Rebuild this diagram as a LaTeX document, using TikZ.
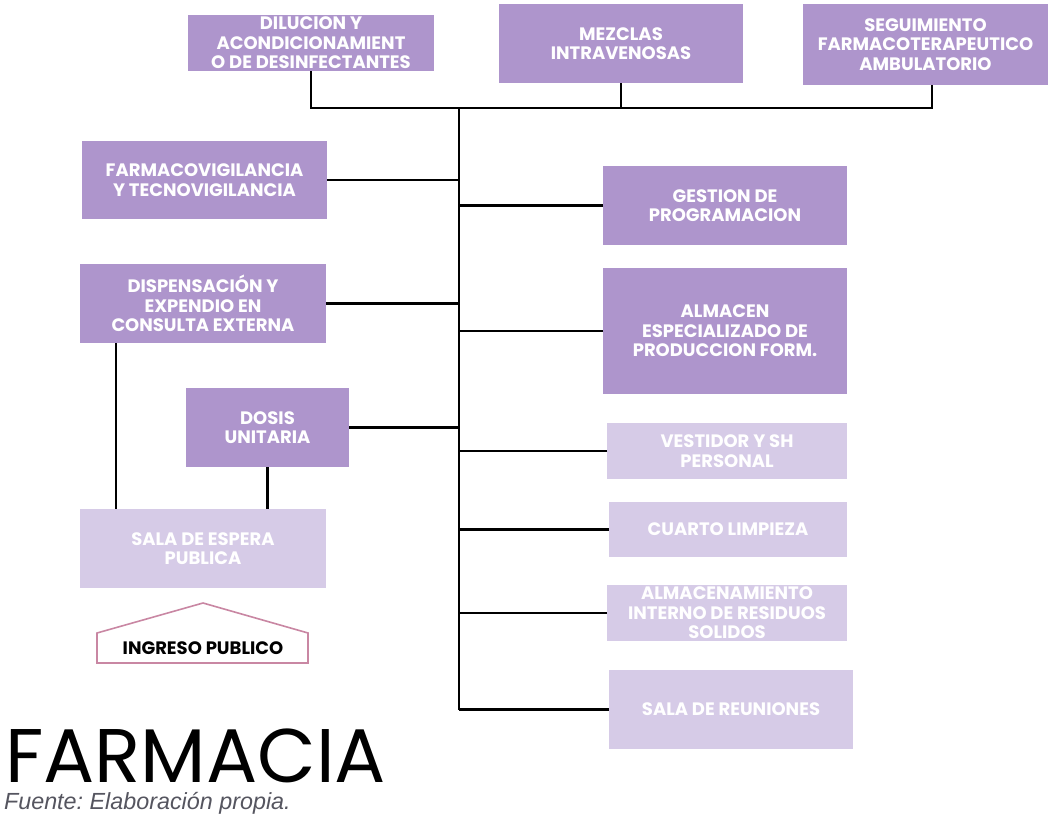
\documentclass[tikz,border=0pt]{standalone}
\usepackage{fontspec}
\setmainfont{Poppins}
\newfontfamily\notefont{Liberation Sans}
\usetikzlibrary{positioning}

\definecolor{lila}{RGB}{174,149,204}
\definecolor{lilaclaro}{RGB}{214,203,231}
\definecolor{rosa}{RGB}{201,135,163}
\definecolor{gris}{RGB}{85,85,95}

\tikzset{box size/.style 2 args={minimum width=#1*0.75pt,minimum height=#2*0.75pt}}

\begin{document}
\begin{tikzpicture}[x=0.75pt,y=-0.75pt,line width=1.6pt,
    box/.style={inner sep=0pt,outer sep=0pt,align=center,text=white,
      font=\bfseries\fontsize{13.5}{14.6}\selectfont},
    dark box/.style={box,fill=lila},
    light box/.style={box,fill=lilaclaro}]

\useasboundingbox (0,0) rectangle (1049,818);

% fila superior
\node[dark box, box size={246}{56}] (dilucion) at (311,43) {DILUCION Y\\ACONDICIONAMIENT\\O DE DESINFECTANTES};
\node[dark box, box size={244}{79}] (mezclas) at (621,43.5) {MEZCLAS\\INTRAVENOSAS};
\node[dark box, box size={245}{81}] (seguim) at (925.5,44.5) {SEGUIMIENTO\\FARMACOTERAPEUTICO\\AMBULATORIO};

\coordinate (bus) at (459,108);
\coordinate (trunk end) at (459,710);

% lado izquierdo
\node[dark box, box size={245}{78}] (farmaco) at (204.5,180) {FARMACOVIGILANCIA\\Y TECNOVIGILANCIA};
\node[dark box, box size={246}{79}] (dispensa) at (203,303.5) {DISPENSACIÓN Y\\EXPENDIO EN\\CONSULTA EXTERNA};
\node[dark box, box size={163}{79}] (dosis) at (267.5,427.5) {DOSIS\\UNITARIA};
\node[light box, box size={246}{79}] (espera) at (203,548.5) {SALA DE ESPERA\\PUBLICA};

% lado derecho
\node[dark box, box size={244}{79}] (gestion) at (725,205.5) {GESTION DE\\PROGRAMACION};
\node[dark box, box size={244}{126}] (almacen) at (725,331) {ALMACEN\\ESPECIALIZADO DE\\PRODUCCION FORM.};
\node[light box, box size={240}{56}] (vestidor) at (727,451) {VESTIDOR Y SH\\PERSONAL};
\node[light box, box size={238}{55}] (cuarto) at (728,529.5) {CUARTO LIMPIEZA};
\node[light box, box size={240}{56}] (residuos) at (727,613) {ALMACENAMIENTO\\INTERNO DE RESIDUOS\\SOLIDOS};
\node[light box, box size={244}{79}] (reunion) at (731,709.5) {SALA DE REUNIONES};

% ingreso
\node[font=\bfseries\fontsize{13.5}{14}\selectfont] (ingreso) at (203,648) {INGRESO PUBLICO};
\draw[rosa, line width=1.2pt] (97,663) -- (97,633) -- (203,603) -- (308,633) -- (308,663) -- cycle;

% titulo y fuente
\node[anchor=base west, inner sep=0pt, text depth=0pt, font=\fontsize{57}{57}\selectfont] (titulo) at (4,782) {FARMACIA};
\node[anchor=base west, inner sep=0pt, text height=12pt, font=\notefont\itshape\fontsize{17.5}{18}\selectfont\frenchspacing, text=gris] (fuente) at (3,809) {Fuente: Elaboración propia.};

% conexiones
\draw (dilucion.south) |- (bus) -| ([xshift=5pt]seguim.south);
\draw (mezclas.south) -- (mezclas.south |- bus);
\draw (bus) -- (trunk end);
\draw (farmaco.east) -- (farmaco.east -| bus);
\draw (dispensa.east) -- (dispensa.east -| bus);
\draw (dosis.east) -- (dosis.east -| bus);
\draw (gestion.west) -- (gestion.west -| bus);
\draw (almacen.west) -- (almacen.west -| bus);
\draw (vestidor.west) -- (vestidor.west -| bus);
\draw (cuarto.west) -- (cuarto.west -| bus);
\draw (residuos.west) -- (residuos.west -| bus);
\draw (reunion.west) -- (reunion.west -| bus);
\draw ([xshift=27pt]dispensa.south west) -- ([xshift=27pt]dispensa.south west |- espera.north);
\draw (dosis.south) -- (dosis.south |- espera.north);

\end{tikzpicture}
\end{document}
